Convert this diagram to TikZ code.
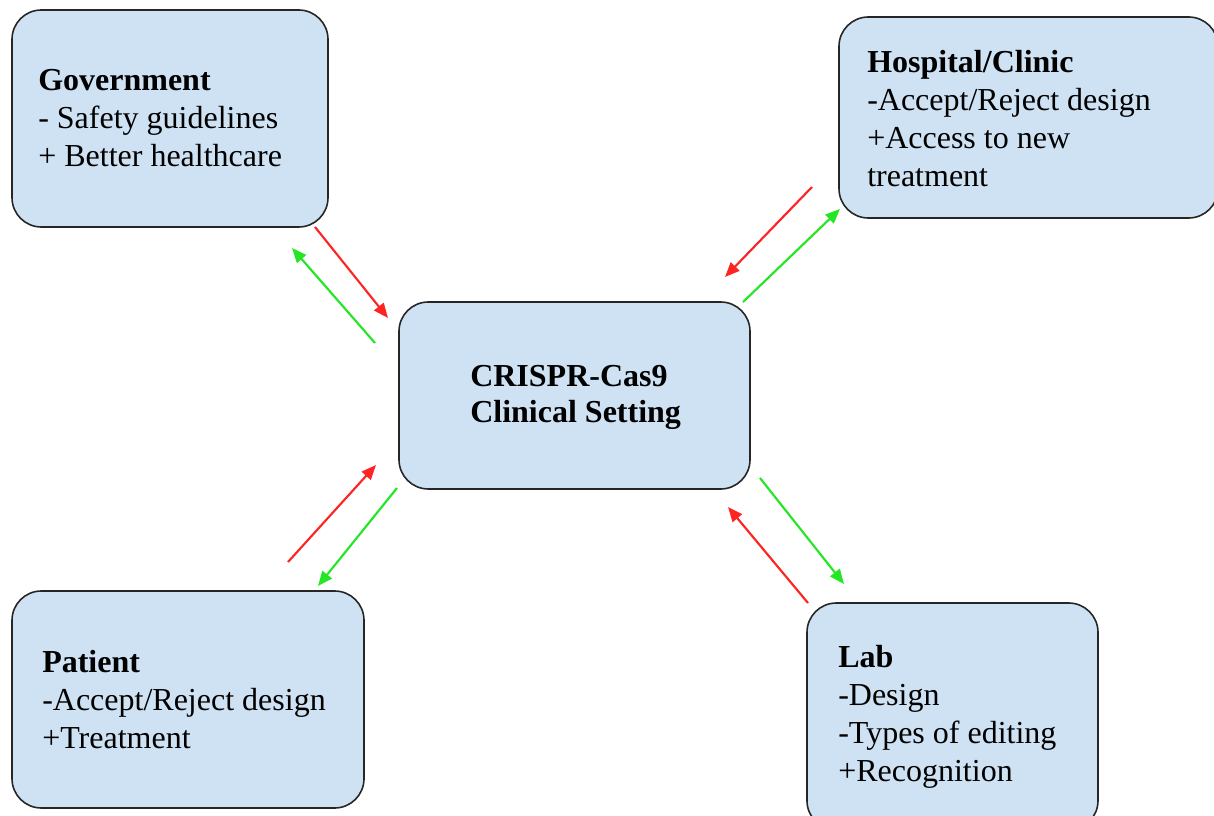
\documentclass[tikz,border=0pt]{standalone}
\usepackage{fontspec}
\setmainfont{Liberation Serif}
\usetikzlibrary{arrows.meta}
\definecolor{boxfill}{HTML}{CFE2F3}
\definecolor{arrred}{HTML}{FF2424}
\definecolor{arrgreen}{HTML}{24E624}
\begin{document}
\begin{tikzpicture}[x=0.75pt,y=-0.75pt,
  box/.style={draw=black!85, line width=1.2pt, fill=boxfill, rounded corners=22pt, inner sep=0pt},
  boxtext/.style={anchor=base west, align=left, inner sep=0pt, font=\fontsize{24}{28.5}\selectfont},
  centertext/.style={anchor=base west, align=left, inner sep=0pt, font=\fontsize{24}{27}\selectfont\bfseries},
  redarr/.style={draw=arrred, line width=1.6pt, -{Triangle[length=11pt,width=9pt]}},
  greenarr/.style={draw=arrgreen, line width=1.6pt, -{Triangle[length=11pt,width=9pt]}}]
\useasboundingbox (0,0) rectangle (1214,816);
% boxes
\node[box, minimum width=237pt, minimum height=162.75pt] (gov) at (170,118.5) {};
\node[box, minimum width=284.25pt, minimum height=150.75pt] (hosp) at (1028.5,117.5) {};
\node[box, minimum width=263.25pt, minimum height=140.25pt] (crispr) at (574.5,395.5) {};
\node[box, minimum width=264pt, minimum height=162.75pt] (pat) at (188,699.5) {};
\node[box, minimum width=218.25pt, minimum height=170.25pt] (lab) at (952.5,716.5) {};
% texts (anchored at the baseline of their last line)
\node[boxtext] (govt) at (38,167) {\textbf{Government}\\- Safety guidelines\\+ Better healthcare};
\node[boxtext] (hospt) at (867,187) {\textbf{Hospital/Clinic}\\-Accept/Reject design\\+Access to new\\treatment};
\node[centertext] (crisprt) at (470,423) {CRISPR-Cas9\\Clinical Setting};
\node[boxtext] (patt) at (42,748) {\textbf{Patient}\\-Accept/Reject design\\+Treatment};
\node[boxtext] (labt) at (838,781) {\textbf{Lab}\\-Design\\-Types of editing\\+Recognition};
% arrow end points
\coordinate (gr1) at (315,227); \coordinate (gr2) at (388,318);
\coordinate (gg1) at (375,343); \coordinate (gg2) at (292,248);
\coordinate (hr1) at (812,187); \coordinate (hr2) at (725,277);
\coordinate (hg1) at (743,302); \coordinate (hg2) at (840,209);
\coordinate (pr1) at (288,562); \coordinate (pr2) at (376,465);
\coordinate (pg1) at (397,488); \coordinate (pg2) at (318,586);
\coordinate (lg1) at (760,478); \coordinate (lg2) at (844,584);
\coordinate (lr1) at (808,603); \coordinate (lr2) at (728,507);
% arrows
\draw[redarr] (gr1) -- (gr2);
\draw[greenarr] (gg1) -- (gg2);
\draw[redarr] (hr1) -- (hr2);
\draw[greenarr] (hg1) -- (hg2);
\draw[redarr] (pr1) -- (pr2);
\draw[greenarr] (pg1) -- (pg2);
\draw[greenarr] (lg1) -- (lg2);
\draw[redarr] (lr1) -- (lr2);
\end{tikzpicture}
\end{document}
